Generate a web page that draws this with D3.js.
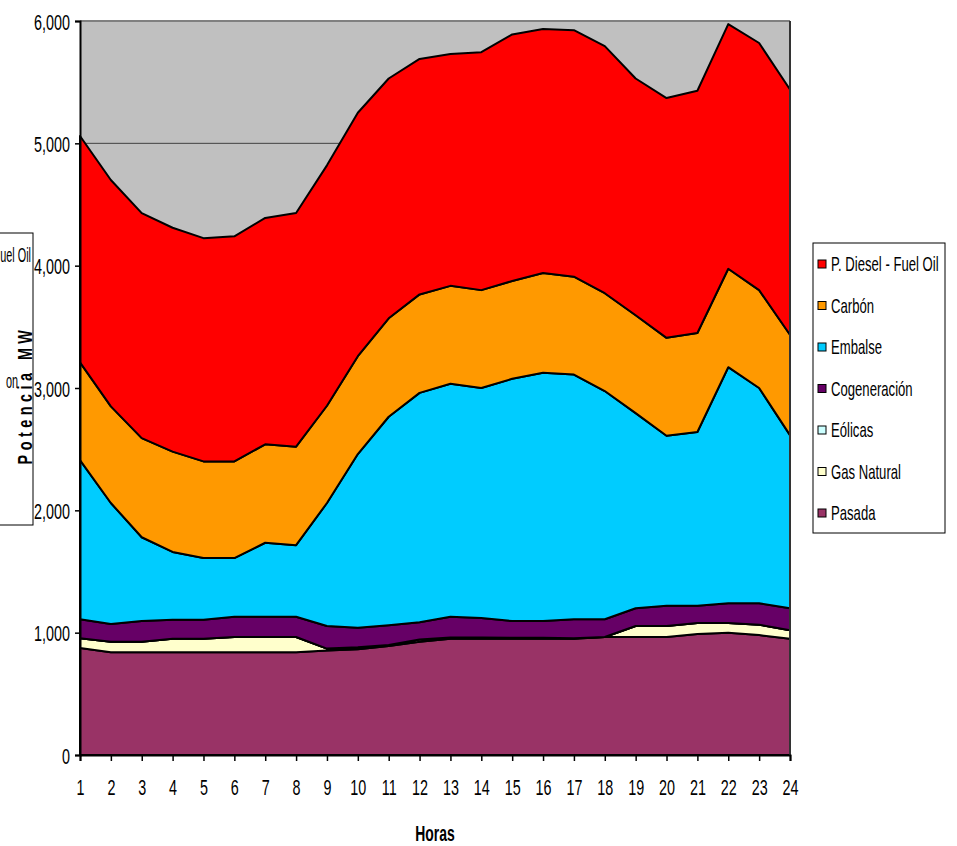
<!DOCTYPE html>
<html>
<head>
<meta charset="utf-8">
<script src="https://cdn.jsdelivr.net/npm/d3@7"></script>
<style>
  html, body { margin: 0; padding: 0; background: #fff; }
  svg { display: block; font-family: "Liberation Sans", Arial, sans-serif; }
</style>
</head>
<body>
<div id="chart"></div>
<script>
// hourly generation by source (MW)
const hours = d3.range(1, 25);
const pasada       = [875, 840, 840, 840, 840, 840, 840, 840, 855, 865, 890, 925, 950, 950, 950, 950, 950, 965, 965, 965, 990, 1000, 980, 950];
const gasNatural   = [80, 85, 85, 110, 110, 125, 125, 125, 15, 15, 10, 20, 10, 10, 8, 8, 5, 0, 90, 90, 90, 80, 85, 70];
const eolicas      = [0, 0, 0, 0, 0, 0, 0, 0, 0, 0, 0, 0, 0, 0, 0, 0, 0, 0, 0, 0, 0, 0, 0, 0];
const cogeneracion = [155, 145, 170, 155, 155, 165, 165, 165, 185, 160, 160, 140, 170, 160, 137, 137, 155, 145, 145, 165, 140, 160, 175, 180];
const embalse      = [1300, 990, 685, 555, 505, 480, 605, 585, 1005, 1420, 1705, 1875, 1905, 1880, 1980, 2030, 2000, 1865, 1595, 1390, 1420, 1930, 1760, 1415];
const carbon       = [800, 790, 810, 820, 790, 790, 805, 805, 795, 800, 805, 805, 800, 800, 800, 815, 800, 800, 800, 800, 810, 805, 800, 820];
const diesel       = [1850, 1850, 1840, 1830, 1825, 1840, 1850, 1910, 1965, 1990, 1960, 1925, 1895, 1945, 2015, 1995, 2015, 2020, 1935, 1960, 1980, 2000, 2020, 2005];

// stacking order, bottom first
const seriesNames = ["Pasada", "Gas Natural", "Eólicas", "Cogeneración", "Embalse", "Carbón", "P. Diesel - Fuel Oil"];
const seriesData = [pasada, gasNatural, eolicas, cogeneracion, embalse, carbon, diesel];
const seriesColors = ["#993366", "#FFFFCC", "#CCFFFF", "#660066", "#00CCFF", "#FF9900", "#FF0000"];
const yTicks = [0, 1000, 2000, 3000, 4000, 5000, 6000];

const W = 957, H = 846;
// text in the picture is narrow and stretched vertically
const SX = 0.82, SY = 1.28;
const squash = `scale(${SX},${SY})`;

const svg = d3.select("#chart").append("svg").attr("width", W).attr("height", H);

const x = d3.scaleLinear().domain([1, 24]).range([80, 790]);
const y = d3.scaleLinear().domain([0, 6000]).range([755, 21]);

// plot background
svg.append("rect")
  .attr("x", x(1)).attr("y", y(6000))
  .attr("width", x(24) - x(1)).attr("height", y(0) - y(6000))
  .attr("fill", "#C0C0C0");

// gridlines
svg.append("g").selectAll("line").data(yTicks.filter(d => d > 0 && d < 6000)).enter().append("line")
  .attr("x1", x(1)).attr("x2", x(24))
  .attr("y1", d => y(d)).attr("y2", d => y(d))
  .attr("stroke", "#404040").attr("stroke-width", 1);

// stacked areas
const table = hours.map((h, i) => {
  const row = { hour: h };
  seriesNames.forEach((n, k) => row[n] = seriesData[k][i]);
  return row;
});
const stacked = d3.stack().keys(seriesNames)(table);
const area = d3.area()
  .x(d => x(d.data.hour))
  .y0(d => y(d[0]))
  .y1(d => y(d[1]));

svg.append("g").selectAll("path").data(stacked).enter().append("path")
  .attr("d", area)
  .attr("fill", (d, i) => seriesColors[i])
  .attr("stroke", "#000")
  .attr("stroke-width", 2)
  .attr("stroke-linejoin", "round");

// frame: top and right borders
svg.append("line").attr("x1", x(1)).attr("x2", x(24)).attr("y1", y(6000)).attr("y2", y(6000))
  .attr("stroke", "#808080").attr("stroke-width", 2);
svg.append("line").attr("x1", x(24)).attr("x2", x(24)).attr("y1", y(6000)).attr("y2", y(0))
  .attr("stroke", "#333").attr("stroke-width", 2);

// axes
const yAxis = svg.append("g").attr("transform", `translate(${x(1)},0)`)
  .call(d3.axisLeft(y).tickValues(yTicks).tickFormat(d3.format(",")).tickSize(5));
const xAxis = svg.append("g").attr("transform", `translate(0,${y(0)})`)
  .call(d3.axisBottom(x).tickValues(hours).tickFormat(d3.format("d")).tickSize(6));

[yAxis, xAxis].forEach(ax => {
  ax.select(".domain").attr("stroke", "#000").attr("stroke-width", 2);
  ax.selectAll(".tick line").attr("stroke", "#000").attr("stroke-width", 1.5);
  ax.selectAll("text").attr("font-family", null).attr("font-size", "17.5px").attr("fill", "#000")
    .attr("transform", squash);
});
yAxis.selectAll("text").attr("x", -10 / SX).attr("dy", "0.36em");
xAxis.selectAll("text").attr("y", 40 / SY).attr("dy", 0);

// helper for squashed text
function label(g, tx, ty, str, sx = SX) {
  return g.append("text").attr("transform", `translate(${tx},${ty}) scale(${sx},${SY})`).text(str);
}

// axis titles
label(svg, 435, 841, "Horas").attr("text-anchor", "middle").attr("font-weight", "bold").attr("font-size", "17px");
svg.append("text")
  .attr("transform", "translate(32,395) rotate(-90) scale(0.8,1.1)")
  .attr("text-anchor", "middle").attr("font-weight", "bold").attr("font-size", "18px")
  .attr("letter-spacing", "5.6px")
  .text("Potencia MW");

// clipped leftover legend at the left edge
svg.append("rect").attr("x", -20).attr("y", 233).attr("width", 53).attr("height", 292)
  .attr("fill", "none").attr("stroke", "#000").attr("stroke-width", 1);
label(svg, 31, 262, "uel Oil", 0.68).attr("text-anchor", "end").attr("font-size", "16px");
label(svg, 18, 388, "on", 0.68).attr("text-anchor", "end").attr("font-size", "16px");

// legend
const legend = svg.append("g");
legend.append("rect").attr("x", 813).attr("y", 243).attr("width", 132).attr("height", 290)
  .attr("fill", "#fff").attr("stroke", "#000").attr("stroke-width", 1);
const legendOrder = seriesNames.slice().reverse();
const legendColors = seriesColors.slice().reverse();
legendOrder.forEach((n, i) => {
  const cy = 264 + i * 41.5;
  legend.append("rect").attr("x", 818).attr("y", cy - 4).attr("width", 8).attr("height", 8)
    .attr("fill", legendColors[i]).attr("stroke", "#000").attr("stroke-width", 1);
  label(legend, 831, cy + 7, n).attr("font-size", "16px");
});
</script>
</body>
</html>
